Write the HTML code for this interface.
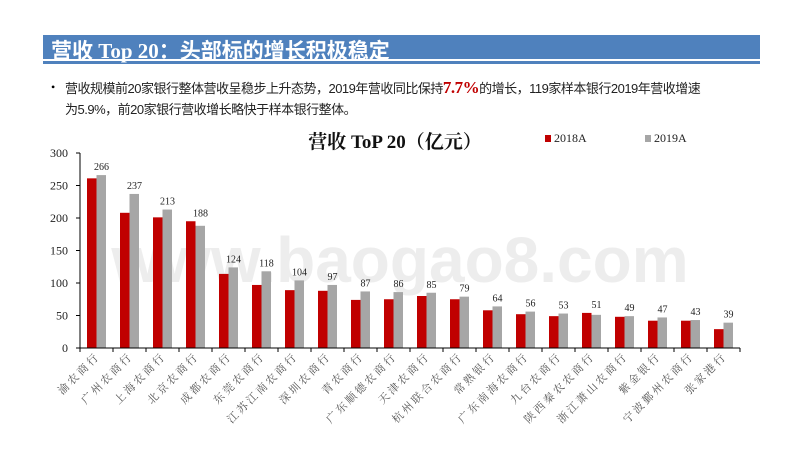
<!DOCTYPE html>
<html><head><meta charset="utf-8"><style>
body{margin:0;width:800px;height:450px;background:#fff;overflow:hidden;position:relative;font-family:"Liberation Serif","Noto Serif CJK SC",serif}
#bar{position:absolute;left:43px;top:35px;width:717px;height:29px;background:#4f81bd}
#bar span{position:absolute;left:8px;top:0px;color:#fff;font:bold 21px "Liberation Serif","Noto Sans CJK SC",sans-serif;white-space:nowrap}
#bar i{position:absolute;left:0;right:0;top:24px;height:1.5px;background:#fff}
.p{position:absolute;left:65px;font:13px "Liberation Sans","Noto Sans CJK SC",sans-serif;color:#222;white-space:nowrap;letter-spacing:-0.5px}
</style></head><body>
<div id="bar"><span>营收 Top 20：头部标的增长积极稳定</span><i></i></div>
<div style="position:absolute;left:51px;top:80px;font-size:12px">•</div>
<div class="p" style="top:78px">营收规模前20家银行整体营收呈稳步上升态势，2019年营收同比保持<b style="color:#c00000;font:bold 17px 'Liberation Serif',serif">7.7%</b>的增长，119家样本银行2019年营收增速</div>
<div class="p" style="top:99px">为5.9%，前20家银行营收增长略快于样本银行整体。</div>
<svg id="c" width="800" height="450" style="position:absolute;left:0;top:0"></svg>
<script>
const categories=["渝农商行","广州农商行","上海农商行","北京农商行","成都农商行","东莞农商行","江苏江南农商行","深圳农商行","青农商行","广东顺德农商行","天津农商行","杭州联合农商行","常熟银行","广东南海农商行","九台农商行","陕西秦农农商行","浙江萧山农商行","紫金银行","宁波鄞州农商行","张家港行"];
const v2018=[261,208,201,195,114,97,89,88,74,75,80,75,58,52,49,54,48,42,42,29];
const v2019=[266,237,213,188,124,118,104,97,87,86,85,79,64,56,53,51,49,47,43,39];
const yTicks=[0,50,100,150,200,250,300];
const svg=document.getElementById('c');const NS='http://www.w3.org/2000/svg';
const x0=80,x1=740,y0=348,yTop=153,ymax=300;
const bw=(x1-x0)/categories.length;
const y=v=>y0-(v/ymax)*(y0-yTop);
const xc=i=>x0+bw*(i+0.5);
function mk(t,a,txt){const e=document.createElementNS(NS,t);for(const k in a)e.setAttribute(k,a[k]);if(txt!=null)e.textContent=txt;svg.appendChild(e);return e;}
let e=mk('text',{x:400,y:282,'text-anchor':'middle','font-size':64,'font-weight':'bold','font-family':'Liberation Sans,sans-serif',fill:'#e6e6e6','fill-opacity':0.7},'www.baogao8.com');

e=mk('text',{x:395,y:148,'text-anchor':'middle','font-size':19,'font-weight':'bold',fill:'#111'},'营收 ToP 20（亿元）');

e=mk('rect',{x:545,y:135,width:6,height:7,fill:'#c00000'});
e=mk('text',{x:554,y:142,'font-size':12,fill:'#222'},'2018A');
e=mk('rect',{x:645,y:135,width:6,height:7,fill:'#a6a6a6'});
e=mk('text',{x:654,y:142,'font-size':12,fill:'#222'},'2019A');
yTicks.forEach(t=>{e=mk('text',{x:68,y:y(t)+4,'text-anchor':'end','font-size':12,fill:'#222'},t);
});
categories.forEach((c,i)=>{
 const cx=xc(i);
 e=mk('rect',{x:cx-9.5,y:y(v2018[i]),width:9.5,height:y0-y(v2018[i]),fill:'#c00000'});
 
 e=mk('rect',{x:cx,y:y(v2019[i]),width:9.5,height:y0-y(v2019[i]),fill:'#a6a6a6'});
 
 e=mk('text',{x:cx+5,y:y(Math.max(v2019[i],v2018[i]))-5,'text-anchor':'middle','font-size':10,fill:'#222'},v2019[i]);
 
 e=mk('text',{x:cx+4,y:357,'text-anchor':'end','font-size':11,'letter-spacing':'2.5',fill:'#555',transform:`rotate(-45 ${cx+4} 357)`},c);
 
});
e=mk('line',{x1:x0,y1:yTop,x2:x0,y2:y0,stroke:'#000','stroke-width':1});
e=mk('line',{x1:x0,y1:y0,x2:x1,y2:y0,stroke:'#000','stroke-width':1});
yTicks.forEach(t=>{e=mk('line',{x1:x0-4,y1:y(t),x2:x0,y2:y(t),stroke:'#000'});});
for(let i=0;i<=categories.length;i++){e=mk('line',{x1:x0+bw*i,y1:y0,x2:x0+bw*i,y2:y0+4,stroke:'#000'});}
</script>
</body></html>
